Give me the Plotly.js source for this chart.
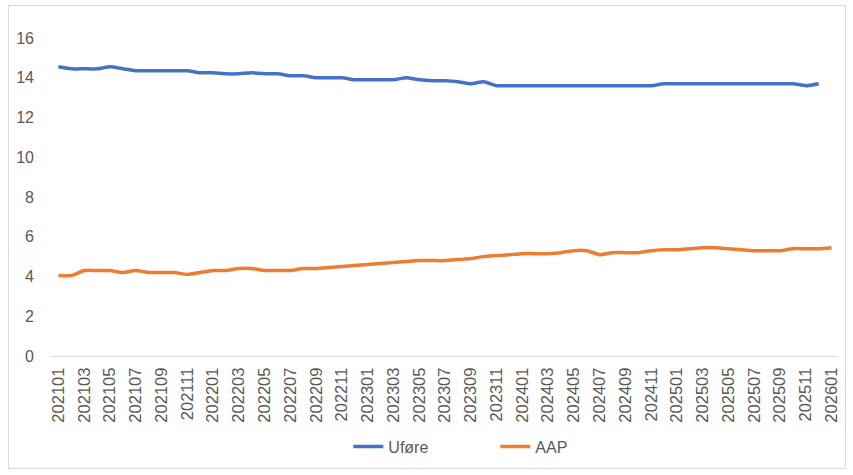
<!DOCTYPE html>
<html>
<head>
<meta charset="utf-8">
<script src="https://cdn.plot.ly/plotly-3.0.1.min.js"></script>
<style>
html, body { margin: 0; padding: 0; background: #ffffff; }
#wrap { position: relative; width: 853px; height: 475px; }
#frame { position: absolute; left: 8px; top: 5px; width: 838px; height: 464px; border: 1px solid #d9d9d9; box-sizing: border-box; pointer-events: none; }
#chart { position: absolute; left: 0; top: 0; width: 853px; height: 475px; }
</style>
</head>
<body>
<div id="wrap">
<div id="chart"></div>
<div id="frame"></div>
</div>
<script>
const months = [
  "202101","202102","202103","202104","202105","202106","202107","202108","202109","202110","202111","202112",
  "202201","202202","202203","202204","202205","202206","202207","202208","202209","202210","202211","202212",
  "202301","202302","202303","202304","202305","202306","202307","202308","202309","202310","202311","202312",
  "202401","202402","202403","202404","202405","202406","202407","202408","202409","202410","202411","202412",
  "202501","202502","202503","202504","202505","202506","202507","202508","202509","202510","202511","202512",
  "202601"
];

const uforeName = "Uføre";
const uforeValues = [
  14.55, 14.45, 14.45, 14.45, 14.55, 14.45, 14.35, 14.35, 14.35, 14.35, 14.35, 14.25,
  14.25, 14.2, 14.2, 14.25, 14.2, 14.2, 14.1, 14.1, 14.0, 14.0, 14.0, 13.9,
  13.9, 13.9, 13.9, 14.0, 13.9, 13.85, 13.85, 13.8, 13.7, 13.8, 13.6, 13.6,
  13.6, 13.6, 13.6, 13.6, 13.6, 13.6, 13.6, 13.6, 13.6, 13.6, 13.6, 13.7,
  13.7, 13.7, 13.7, 13.7, 13.7, 13.7, 13.7, 13.7, 13.7, 13.7, 13.6, 13.7
];

const aapName = "AAP";
const aapValues = [
  4.05, 4.05, 4.3, 4.3, 4.3, 4.2, 4.3, 4.2, 4.2, 4.2, 4.1, 4.2,
  4.3, 4.3, 4.4, 4.4, 4.3, 4.3, 4.3, 4.4, 4.4, 4.45, 4.5, 4.55,
  4.6, 4.65, 4.7, 4.75, 4.8, 4.8, 4.8, 4.85, 4.9, 5.0, 5.05, 5.1,
  5.15, 5.15, 5.15, 5.2, 5.3, 5.3, 5.1, 5.2, 5.2, 5.2, 5.3, 5.35,
  5.35, 5.4, 5.45, 5.45, 5.4, 5.35, 5.3, 5.3, 5.3, 5.4, 5.4, 5.4,
  5.45
];

const yTicks = [0, 2, 4, 6, 8, 10, 12, 14, 16];

const textColor = "#595959";
const fontFamily = "'Liberation Sans', Arial, sans-serif";

const traces = [
  {
    x: months.slice(0, uforeValues.length),
    y: uforeValues,
    name: uforeName,
    type: "scatter",
    mode: "lines",
    line: { color: "#4472C4", width: 3.5, shape: "spline", smoothing: 0.6 },
    hoverinfo: "x+y+name"
  },
  {
    x: months.slice(0, aapValues.length),
    y: aapValues,
    name: aapName,
    type: "scatter",
    mode: "lines",
    line: { color: "#ED7D31", width: 3.5, shape: "spline", smoothing: 0.6 },
    hoverinfo: "x+y+name"
  }
];

const layout = {
  width: 853,
  height: 475,
  margin: { l: 52, r: 15, t: 38, b: 119, pad: 0 },
  paper_bgcolor: "#ffffff",
  plot_bgcolor: "#ffffff",
  font: { family: fontFamily, color: textColor, size: 16 },
  showlegend: true,
  legend: {
    orientation: "h",
    x: 0.377,
    xanchor: "left",
    y: -0.285,
    yanchor: "middle",
    font: { family: fontFamily, color: textColor, size: 16 },
    entrywidth: 102,
    entrywidthmode: "pixels",
    tracegroupgap: 0
  },
  xaxis: {
    type: "category",
    categoryorder: "array",
    categoryarray: months,
    range: [-0.5, months.length - 0.5],
    tickmode: "linear",
    tick0: 0,
    dtick: 2,
    tickangle: -90,
    ticks: "",
    showgrid: false,
    zeroline: false,
    showline: true,
    linecolor: "#d9d9d9",
    linewidth: 1,
    tickfont: { family: fontFamily, color: textColor, size: 16.5 },
    ticklabelstandoff: 4
  },
  yaxis: {
    range: [0, 16],
    tickmode: "array",
    tickvals: yTicks,
    ticktext: yTicks.map(String),
    ticks: "",
    showgrid: false,
    zeroline: false,
    showline: false,
    tickfont: { family: fontFamily, color: textColor, size: 16 },
    ticklabelstandoff: 17
  }
};

Plotly.newPlot("chart", traces, layout, { displayModeBar: false, staticPlot: true });
</script>
</body>
</html>
